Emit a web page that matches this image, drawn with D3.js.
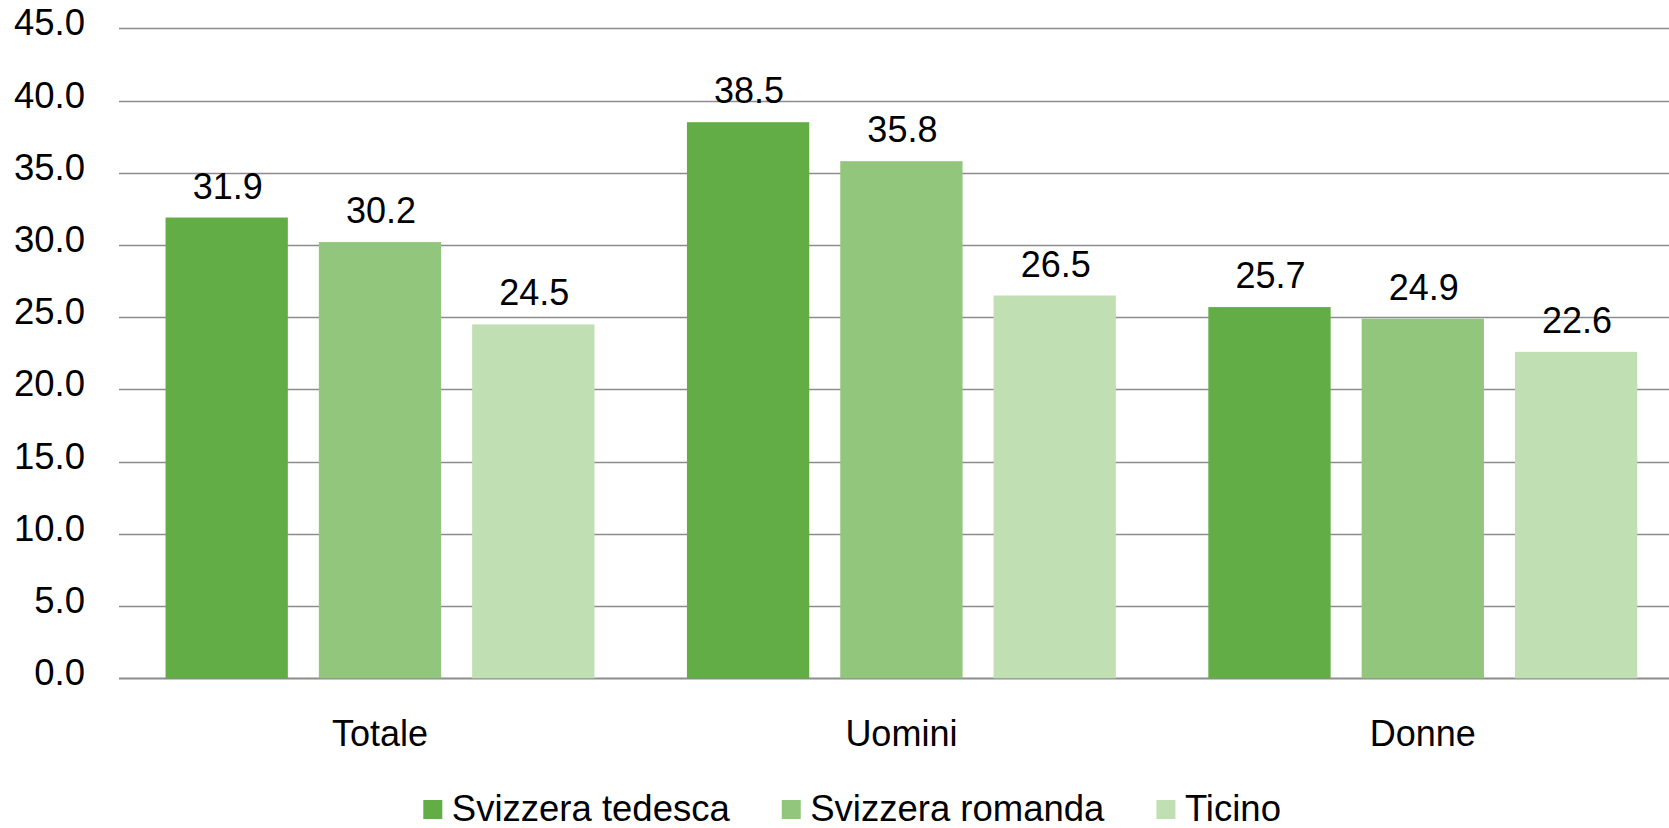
<!DOCTYPE html>
<html>
<head>
<meta charset="utf-8">
<script src="https://cdn.jsdelivr.net/npm/d3@7"></script>
<style>
  html, body { margin: 0; padding: 0; background: #fff; }
  svg { display: block; }
  text { font-family: "Liberation Sans", Arial, sans-serif; fill: #000; }
</style>
</head>
<body>
<svg id="chart" width="1669" height="828"></svg>
<script>
const categories = ["Totale", "Uomini", "Donne"];
const seriesNames = ["Svizzera tedesca", "Svizzera romanda", "Ticino"];
const svizzeraTedesca = [31.9, 38.5, 25.7];
const svizzeraRomanda = [30.2, 35.8, 24.9];
const ticino = [24.5, 26.5, 22.6];
const yTicks = [0, 5, 10, 15, 20, 25, 30, 35, 40, 45];
const colors = ["#62ad45", "#92c67c", "#c0dfb2"];

const seriesValues = [svizzeraTedesca, svizzeraRomanda, ticino];

const W = 1669, H = 828;
const svg = d3.select("#chart");

const x0 = d3.scaleBand().domain(categories).range([119.3, 1683.5]).paddingInner(0).paddingOuter(0);
const x1 = d3.scaleBand().domain(seriesNames).range([0, x0.bandwidth()]).paddingInner(0.2022).paddingOuter(0.3016);
const y = d3.scaleLinear().domain([0, 45]).range([678.3, 28.3]);

// gridlines
const grid = svg.append("g");
grid.selectAll("line").data(yTicks).join("line")
  .attr("x1", 119).attr("x2", W)
  .attr("y1", d => Math.round(y(d)) + 0.5).attr("y2", d => Math.round(y(d)) + 0.5)
  .attr("stroke", "#8c8c8c").attr("stroke-width", d => d === 0 ? 2 : 1.5);

// y tick labels
svg.append("g").selectAll("text").data(yTicks).join("text")
  .attr("x", 85).attr("y", d => y(d) + 7)
  .attr("text-anchor", "end")
  .style("font-size", "36.5px")
  .text(d => d3.format(".1f")(d));

// bars
const data = [];
categories.forEach((c, i) => {
  seriesNames.forEach((s, j) => data.push({ cat: c, ser: s, v: seriesValues[j][i], j }));
});

svg.append("g").selectAll("rect").data(data).join("rect")
  .attr("x", d => x0(d.cat) + x1(d.ser))
  .attr("width", x1.bandwidth())
  .attr("y", d => y(d.v))
  .attr("height", d => y(0) - y(d.v))
  .attr("fill", d => colors[d.j]);

// value labels
svg.append("g").selectAll("text").data(data).join("text")
  .attr("x", d => x0(d.cat) + x1(d.ser) + x1.bandwidth() / 2 + 1)
  .attr("y", d => y(d.v) - 19)
  .attr("text-anchor", "middle")
  .style("font-size", "36px")
  .text(d => d3.format(".1f")(d.v));

// category labels
svg.append("g").selectAll("text").data(categories).join("text")
  .attr("x", d => x0(d) + x0.bandwidth() / 2)
  .attr("y", 745.5)
  .attr("text-anchor", "middle")
  .style("font-size", "36px")
  .text(d => d);

// legend
const leg = svg.append("g");
let lx = 423.3;
seriesNames.forEach((s, j) => {
  leg.append("rect").attr("x", lx).attr("y", 800).attr("width", 19).attr("height", 19).attr("fill", colors[j]);
  const t = leg.append("text").attr("x", lx + 28.5).attr("y", 820.5)
    .style("font-size", "36.5px").text(s);
  lx = lx + 28.5 + t.node().getComputedTextLength() + 52;
});
</script>
</body>
</html>
